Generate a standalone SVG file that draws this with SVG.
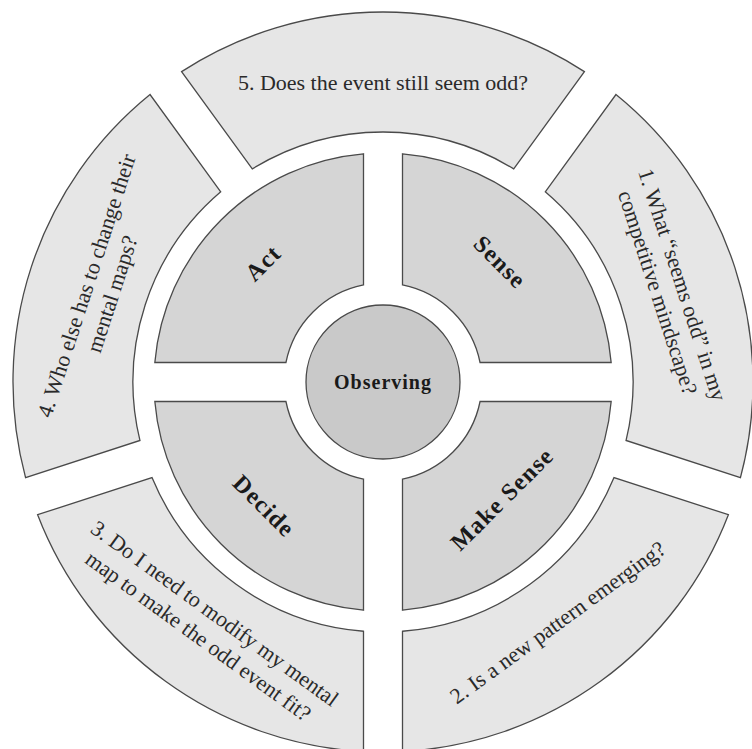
<svg xmlns="http://www.w3.org/2000/svg" width="752" height="749" viewBox="0 0 752 749">
<style>
.outer{fill:#e6e6e6;stroke:#4a4a4a;stroke-width:1.3}
.quad{fill:#d5d5d5;stroke:#4a4a4a;stroke-width:1.3}
.core{fill:#c9c9c9;stroke:#4a4a4a;stroke-width:1.3}
.q{font-family:"Liberation Serif",serif;font-size:22px;fill:#2a2a2a;text-anchor:middle;dominant-baseline:central}
.lab{font-family:"Liberation Serif",serif;font-size:24px;font-weight:bold;fill:#1a1a1a;text-anchor:middle;dominant-baseline:central;letter-spacing:1.2px}
.obs{font-family:"Liberation Serif",serif;font-size:20px;font-weight:bold;fill:#1a1a1a;text-anchor:middle;dominant-baseline:central;letter-spacing:1px}
</style>
<rect width="752" height="749" fill="#ffffff"/>
<g id="seg5">
<path class="outer" d="M181.60,71.61 A370,370 0 0 1 584.40,71.61 L513.72,168.90 A250,250 0 0 0 252.28,168.90 Z"/>
<text class="q" x="383" y="82">5. Does the event still seem odd?</text>
</g>
<g id="seg1">
<path class="outer" d="M615.96,94.53 A370,370 0 0 1 740.44,477.63 L626.07,440.47 A250,250 0 0 0 545.28,191.82 Z"/>
<g transform="rotate(72 383 382)">
<text class="q" x="383" y="67">1. What “seems odd” in my</text>
<text class="q" x="383" y="93">competitive mindscape?</text>
</g>
</g>
<g id="seg2">
<path class="outer" d="M728.38,514.73 A370,370 0 0 1 402.5,751.49 L402.5,631.24 A250,250 0 0 0 614.01,477.57 Z"/>
<g transform="rotate(-36 383 382)">
<text class="q" x="383" y="679">2. Is a new pattern emerging?</text>
</g>
</g>
<g id="seg3">
<path class="outer" d="M363.5,751.49 A370,370 0 0 1 37.62,514.73 L151.99,477.57 A250,250 0 0 0 363.5,631.24 Z"/>
<g transform="rotate(36 383 382)">
<text class="q" x="383" y="668">3. Do I need to modify my mental</text>
<text class="q" x="383" y="696">map to make the odd event fit?</text>
</g>
</g>
<g id="seg4">
<path class="outer" d="M25.56,477.63 A370,370 0 0 1 150.04,94.53 L220.72,191.82 A250,250 0 0 0 139.93,440.47 Z"/>
<g transform="rotate(-72 383 382)">
<text class="q" x="383" y="70">4. Who else has to change their</text>
<text class="q" x="383" y="97">mental maps?</text>
</g>
</g>
<g id="sense">
<path class="quad" d="M402.5,153.83 A229,229 0 0 1 611.17,362.5 L480.06,362.5 A99,99 0 0 0 402.5,284.94 Z"/>
<text class="lab" transform="translate(500 262) rotate(45)">Sense</text>
</g>
<g id="make-sense">
<path class="quad" d="M611.17,401.5 A229,229 0 0 1 402.5,610.17 L402.5,479.06 A99,99 0 0 0 480.06,401.5 Z"/>
<text class="lab" transform="translate(502 499) rotate(-45)">Make Sense</text>
</g>
<g id="decide">
<path class="quad" d="M363.5,610.17 A229,229 0 0 1 154.83,401.5 L285.94,401.5 A99,99 0 0 0 363.5,479.06 Z"/>
<text class="lab" transform="translate(264 506) rotate(45)">Decide</text>
</g>
<g id="act">
<path class="quad" d="M154.83,362.5 A229,229 0 0 1 363.5,153.83 L363.5,284.94 A99,99 0 0 0 285.94,362.5 Z"/>
<text class="lab" transform="translate(263 263) rotate(-45)">Act</text>
</g>
<g id="observing">
<circle class="core" cx="383" cy="382" r="77"/>
<text class="obs" x="383" y="382">Observing</text>
</g>
<g id="connectors"/>
</svg>
